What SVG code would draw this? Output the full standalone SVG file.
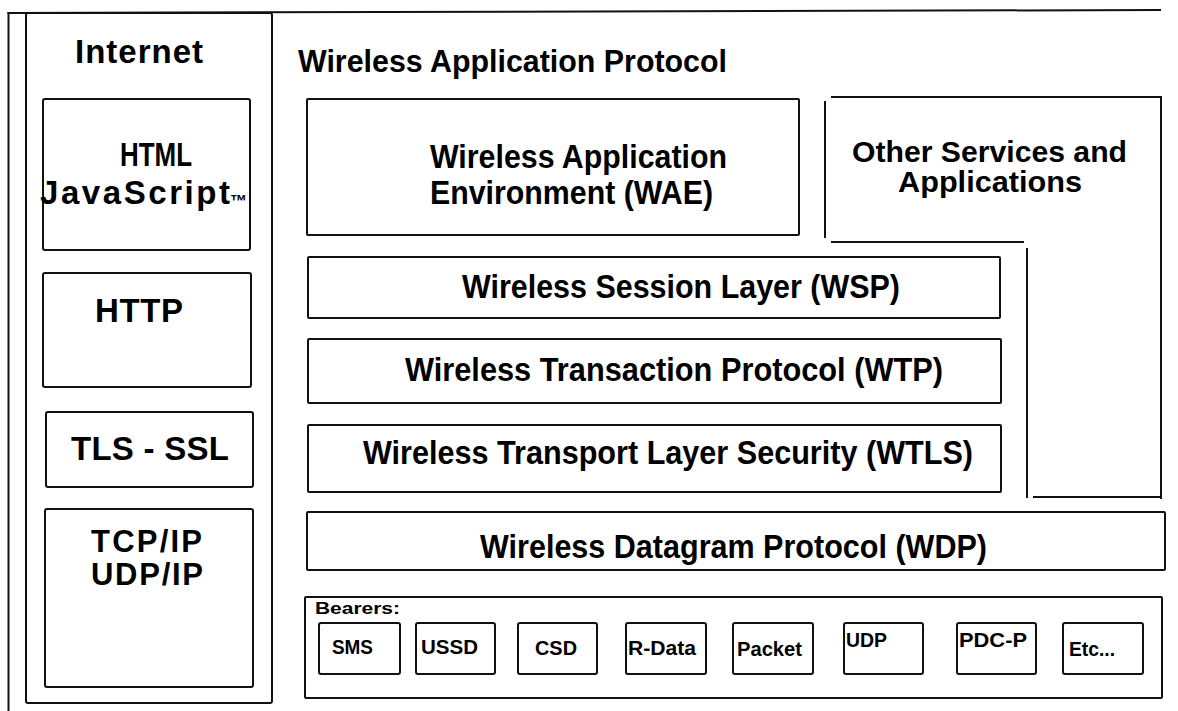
<svg xmlns="http://www.w3.org/2000/svg" width="1178" height="711" viewBox="0 0 1178 711">
  <style>
    .box { fill: none; stroke: #111; stroke-width: 2; }
    .ln { fill: none; stroke: #111; stroke-width: 2; stroke-linecap: square; }
    .t { font-family: "Liberation Sans", Arial, Helvetica, sans-serif; font-weight: bold; fill: #000; }
    .big { font-size: 33px; }
    .mid { font-size: 31px; }
    .lg { font-size: 33px; }
    .osa { font-size: 29px; }
    .sm { font-size: 21px; }
    .xs { font-size: 17px; }
  </style>
  <rect x="0" y="0" width="1178" height="711" fill="#fff"/>

  <g id="frame">
    <line class="ln" x1="8.5" y1="13" x2="8.5" y2="711"/>
    <line class="ln" x1="8.5" y1="13" x2="1160" y2="10"/>
  </g>

  <g id="internet">
    <rect class="box" x="26" y="13" width="246" height="690" rx="2"/>
    <text class="t lg" x="75" y="63" textLength="128" lengthAdjust="spacing">Internet</text>
  </g>

  <g id="html">
    <rect class="box" x="43" y="99" width="207" height="151" rx="2"/>
    <text class="t lg" x="120" y="166" textLength="72" lengthAdjust="spacingAndGlyphs">HTML</text>
    <text class="t lg" x="40" y="204" textLength="190" lengthAdjust="spacing">JavaScript</text>
    <text class="t" x="230" y="207" font-size="17">™</text>
  </g>

  <g id="http">
    <rect class="box" x="43" y="273" width="208" height="114" rx="2"/>
    <text class="t lg" x="95" y="322" textLength="88" lengthAdjust="spacing">HTTP</text>
  </g>

  <g id="tls">
    <rect class="box" x="46" y="412" width="207" height="75" rx="2"/>
    <text class="t lg" x="71" y="460" textLength="158" lengthAdjust="spacing">TLS - SSL</text>
  </g>

  <g id="tcpip">
    <rect class="box" x="45" y="509" width="208" height="178" rx="2"/>
    <text class="t mid" x="91" y="552" textLength="111" lengthAdjust="spacing">TCP/IP</text>
    <text class="t mid" x="91" y="585" textLength="112" lengthAdjust="spacing">UDP/IP</text>
  </g>

  <g id="wap-title">
    <text class="t mid" x="298" y="72" textLength="429" lengthAdjust="spacingAndGlyphs">Wireless Application Protocol</text>
  </g>

  <g id="wae">
    <rect class="box" x="307" y="99" width="492" height="136" rx="1"/>
    <text class="t big" x="430" y="168" textLength="297" lengthAdjust="spacingAndGlyphs">Wireless Application</text>
    <text class="t big" x="430" y="204" textLength="283" lengthAdjust="spacingAndGlyphs">Environment (WAE)</text>
  </g>

  <g id="other-services">
    <line class="ln" x1="832" y1="97" x2="1161" y2="97"/>
    <line class="ln" x1="1161" y1="97" x2="1161" y2="498"/>
    <line class="ln" x1="825" y1="102" x2="825" y2="237"/>
    <line class="ln" x1="832" y1="242" x2="1023" y2="242"/>
    <line class="ln" x1="1027" y1="249" x2="1027" y2="497"/>
    <line class="ln" x1="1034" y1="497" x2="1161" y2="497"/>
    <text class="t osa" x="852" y="162" textLength="275" lengthAdjust="spacingAndGlyphs">Other Services and</text>
    <text class="t osa" x="898" y="192" textLength="184" lengthAdjust="spacingAndGlyphs">Applications</text>
  </g>

  <g id="wsp">
    <rect class="box" x="308" y="257" width="692" height="61" rx="1"/>
    <text class="t big" x="462" y="298" textLength="438" lengthAdjust="spacingAndGlyphs">Wireless Session Layer (WSP)</text>
  </g>

  <g id="wtp">
    <rect class="box" x="308" y="339" width="693" height="64" rx="1"/>
    <text class="t big" x="405" y="381" textLength="538" lengthAdjust="spacingAndGlyphs">Wireless Transaction Protocol (WTP)</text>
  </g>

  <g id="wtls">
    <rect class="box" x="308" y="425" width="693" height="67" rx="1"/>
    <text class="t big" x="363" y="464" textLength="610" lengthAdjust="spacingAndGlyphs">Wireless Transport Layer Security (WTLS)</text>
  </g>

  <g id="wdp">
    <rect class="box" x="307" y="512" width="858" height="58" rx="1"/>
    <text class="t big" x="480" y="558" textLength="507" lengthAdjust="spacingAndGlyphs">Wireless Datagram  Protocol (WDP)</text>
  </g>

  <g id="bearers">
    <rect class="box" x="305" y="597" width="857" height="101" rx="1"/>
    <text class="t xs" x="315" y="614" textLength="85" lengthAdjust="spacingAndGlyphs">Bearers:</text>
  </g>

  <g id="bearer-sms">
    <rect class="box" x="319" y="623" width="81" height="51" rx="2"/>
    <text class="t sm" x="332" y="654" textLength="41" lengthAdjust="spacingAndGlyphs">SMS</text>
  </g>
  <g id="bearer-ussd">
    <rect class="box" x="416" y="623" width="79" height="51" rx="2"/>
    <text class="t sm" x="421" y="654" textLength="57" lengthAdjust="spacingAndGlyphs">USSD</text>
  </g>
  <g id="bearer-csd">
    <rect class="box" x="518" y="623" width="79" height="51" rx="2"/>
    <text class="t sm" x="535" y="655" textLength="42" lengthAdjust="spacingAndGlyphs">CSD</text>
  </g>
  <g id="bearer-rdata">
    <rect class="box" x="626" y="623" width="80" height="51" rx="2"/>
    <text class="t sm" x="628" y="655" textLength="68" lengthAdjust="spacingAndGlyphs">R-Data</text>
  </g>
  <g id="bearer-packet">
    <rect class="box" x="733" y="623" width="80" height="51" rx="2"/>
    <text class="t sm" x="737" y="656" textLength="65" lengthAdjust="spacingAndGlyphs">Packet</text>
  </g>
  <g id="bearer-udp">
    <rect class="box" x="844" y="623" width="79" height="51" rx="2"/>
    <text class="t sm" x="846" y="647" textLength="41" lengthAdjust="spacingAndGlyphs">UDP</text>
  </g>
  <g id="bearer-pdcp">
    <rect class="box" x="957" y="623" width="79" height="51" rx="2"/>
    <text class="t sm" x="959" y="647" textLength="68" lengthAdjust="spacingAndGlyphs">PDC-P</text>
  </g>
  <g id="bearer-etc">
    <rect class="box" x="1063" y="623" width="80" height="51" rx="2"/>
    <text class="t sm" x="1069" y="656" textLength="46" lengthAdjust="spacingAndGlyphs">Etc...</text>
  </g>

  <g id="connectors"></g>
</svg>
